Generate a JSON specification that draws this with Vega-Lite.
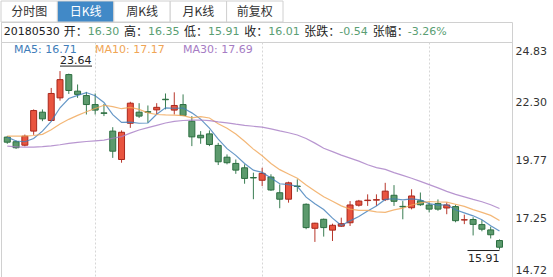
{
  "$schema": "https://vega.github.io/schema/vega-lite/v6.json",
  "padding": 0,
  "spacing": 0,
  "bounds": "flush",
  "background": "white",
  "config": {
    "view": {"stroke": null},
    "font": "DejaVu Sans"
  },
  "datasets": {
    "tabs": [
      {"tab": "分时图", "selected": false},
      {"tab": "日K线", "selected": true},
      {"tab": "周K线", "selected": false},
      {"tab": "月K线", "selected": false},
      {"tab": "前复权", "selected": false}
    ],
    "info": [
      {"item": "开", "label": "开：", "value": "16.30", "date": "20180530"},
      {"item": "高", "label": "高：", "value": "16.35"},
      {"item": "低", "label": "低：", "value": "15.91"},
      {"item": "收", "label": "收：", "value": "16.01"},
      {"item": "张跌", "label": "张跌：", "value": "-0.54"},
      {"item": "张幅", "label": "张幅：", "value": "-3.26%"}
    ],
    "kline": [
      {"k": 0, "date": "2018-03-07", "open": 20.78, "high": 20.83, "low": 20.49, "close": 20.56, "MA5": 20.78, "MA10": 20.82, "MA30": 20.39},
      {"k": 1, "date": "2018-03-08", "open": 20.58, "high": 20.64, "low": 20.27, "close": 20.32, "MA5": 20.61, "MA10": 20.82, "MA30": 20.36},
      {"k": 2, "date": "2018-03-09", "open": 20.43, "high": 20.89, "low": 20.38, "close": 20.82, "MA5": 20.58, "MA10": 20.82, "MA30": 20.35},
      {"k": 3, "date": "2018-03-12", "open": 21.04, "high": 21.98, "low": 20.88, "close": 21.93, "MA5": 20.72, "MA10": 20.85, "MA30": 20.35},
      {"k": 4, "date": "2018-03-13", "open": 21.86, "high": 21.98, "low": 21.47, "close": 21.57, "MA5": 21.04, "MA10": 20.90, "MA30": 20.37},
      {"k": 5, "date": "2018-03-14", "open": 21.50, "high": 22.91, "low": 21.47, "close": 22.67, "MA5": 21.46, "MA10": 21.10, "MA30": 20.40},
      {"k": 6, "date": "2018-03-15", "open": 22.48, "high": 23.64, "low": 22.36, "close": 23.27, "MA5": 22.05, "MA10": 21.35, "MA30": 20.45},
      {"k": 7, "date": "2018-03-16", "open": 23.49, "high": 23.53, "low": 22.65, "close": 22.80, "MA5": 22.45, "MA10": 21.55, "MA30": 20.51},
      {"k": 8, "date": "2018-03-19", "open": 22.77, "high": 23.06, "low": 22.48, "close": 22.63, "MA5": 22.59, "MA10": 21.72, "MA30": 20.55},
      {"k": 9, "date": "2018-03-20", "open": 22.58, "high": 22.74, "low": 21.76, "close": 22.19, "MA5": 22.71, "MA10": 21.88, "MA30": 20.59},
      {"k": 10, "date": "2018-03-21", "open": 22.19, "high": 22.67, "low": 21.76, "close": 21.95, "MA5": 22.57, "MA10": 22.02, "MA30": 20.62},
      {"k": 11, "date": "2018-03-22", "open": 21.83, "high": 22.22, "low": 21.69, "close": 21.81, "MA5": 22.28, "MA10": 22.16, "MA30": 20.65},
      {"k": 12, "date": "2018-03-23", "open": 21.04, "high": 21.21, "low": 19.88, "close": 20.17, "MA5": 21.75, "MA10": 22.10, "MA30": 20.73},
      {"k": 13, "date": "2018-03-26", "open": 19.81, "high": 21.07, "low": 19.67, "close": 20.99, "MA5": 21.42, "MA10": 22.01, "MA30": 20.80},
      {"k": 14, "date": "2018-03-27", "open": 21.38, "high": 22.31, "low": 21.18, "close": 22.25, "MA5": 21.43, "MA10": 22.07, "MA30": 20.95},
      {"k": 15, "date": "2018-03-28", "open": 21.86, "high": 22.25, "low": 21.61, "close": 21.69, "MA5": 21.38, "MA10": 21.98, "MA30": 21.09},
      {"k": 16, "date": "2018-03-29", "open": 21.88, "high": 22.15, "low": 21.40, "close": 21.86, "MA5": 21.39, "MA10": 21.83, "MA30": 21.19},
      {"k": 17, "date": "2018-03-30", "open": 21.96, "high": 22.25, "low": 21.76, "close": 22.07, "MA5": 21.77, "MA10": 21.76, "MA30": 21.29},
      {"k": 18, "date": "2018-04-02", "open": 22.42, "high": 22.67, "low": 21.98, "close": 22.40, "MA5": 22.05, "MA10": 21.74, "MA30": 21.39},
      {"k": 19, "date": "2018-04-03", "open": 21.95, "high": 22.72, "low": 21.76, "close": 22.15, "MA5": 22.03, "MA10": 21.73, "MA30": 21.46},
      {"k": 20, "date": "2018-04-04", "open": 22.19, "high": 22.63, "low": 21.69, "close": 21.72, "MA5": 22.04, "MA10": 21.71, "MA30": 21.50},
      {"k": 21, "date": "2018-04-09", "open": 21.47, "high": 21.69, "low": 20.39, "close": 20.79, "MA5": 21.83, "MA10": 21.61, "MA30": 21.52},
      {"k": 22, "date": "2018-04-10", "open": 20.86, "high": 21.04, "low": 20.49, "close": 20.75, "MA5": 21.56, "MA10": 21.67, "MA30": 21.52},
      {"k": 23, "date": "2018-04-11", "open": 20.92, "high": 21.07, "low": 20.39, "close": 20.46, "MA5": 21.17, "MA10": 21.61, "MA30": 21.49},
      {"k": 24, "date": "2018-04-12", "open": 20.42, "high": 20.53, "low": 19.57, "close": 19.71, "MA5": 20.69, "MA10": 21.36, "MA30": 21.44},
      {"k": 25, "date": "2018-04-13", "open": 19.91, "high": 20.03, "low": 19.60, "close": 19.67, "MA5": 20.28, "MA10": 21.16, "MA30": 21.40},
      {"k": 26, "date": "2018-04-16", "open": 19.64, "high": 19.81, "low": 19.19, "close": 19.35, "MA5": 19.99, "MA10": 20.91, "MA30": 21.34},
      {"k": 27, "date": "2018-04-17", "open": 19.45, "high": 19.60, "low": 18.76, "close": 18.99, "MA5": 19.64, "MA10": 20.60, "MA30": 21.29},
      {"k": 28, "date": "2018-04-18", "open": 19.03, "high": 19.24, "low": 18.09, "close": 19.01, "MA5": 19.35, "MA10": 20.26, "MA30": 21.25},
      {"k": 29, "date": "2018-04-19", "open": 18.91, "high": 19.45, "low": 18.66, "close": 19.21, "MA5": 19.25, "MA10": 19.97, "MA30": 21.21},
      {"k": 30, "date": "2018-04-20", "open": 19.05, "high": 19.17, "low": 18.45, "close": 18.49, "MA5": 19.01, "MA10": 19.64, "MA30": 21.14},
      {"k": 31, "date": "2018-04-23", "open": 18.37, "high": 18.73, "low": 17.70, "close": 18.09, "MA5": 18.76, "MA10": 19.37, "MA30": 21.05},
      {"k": 32, "date": "2018-04-24", "open": 18.09, "high": 18.85, "low": 17.94, "close": 18.80, "MA5": 18.72, "MA10": 19.18, "MA30": 20.97},
      {"k": 33, "date": "2018-04-25", "open": 18.66, "high": 18.95, "low": 18.41, "close": 18.64, "MA5": 18.65, "MA10": 19.00, "MA30": 20.87},
      {"k": 34, "date": "2018-04-26", "open": 17.87, "high": 17.91, "low": 16.79, "close": 16.86, "MA5": 18.18, "MA10": 18.71, "MA30": 20.72},
      {"k": 35, "date": "2018-04-27", "open": 16.83, "high": 17.07, "low": 16.24, "close": 17.05, "MA5": 17.89, "MA10": 18.45, "MA30": 20.52},
      {"k": 36, "date": "2018-05-02", "open": 17.22, "high": 17.25, "low": 16.47, "close": 16.86, "MA5": 17.64, "MA10": 18.20, "MA30": 20.30},
      {"k": 37, "date": "2018-05-03", "open": 16.75, "high": 17.03, "low": 16.28, "close": 16.96, "MA5": 17.27, "MA10": 18.00, "MA30": 20.15},
      {"k": 38, "date": "2018-05-04", "open": 16.92, "high": 17.29, "low": 16.89, "close": 17.03, "MA5": 16.95, "MA10": 17.80, "MA30": 20.00},
      {"k": 39, "date": "2018-05-07", "open": 17.07, "high": 18.01, "low": 16.93, "close": 17.84, "MA5": 17.15, "MA10": 17.66, "MA30": 19.87},
      {"k": 40, "date": "2018-05-08", "open": 17.83, "high": 18.06, "low": 17.77, "close": 18.01, "MA5": 17.34, "MA10": 17.61, "MA30": 19.74},
      {"k": 41, "date": "2018-05-09", "open": 18.03, "high": 18.30, "low": 17.80, "close": 18.05, "MA5": 17.58, "MA10": 17.61, "MA30": 19.58},
      {"k": 42, "date": "2018-05-10", "open": 18.05, "high": 18.30, "low": 17.80, "close": 18.07, "MA5": 17.80, "MA10": 17.54, "MA30": 19.46},
      {"k": 43, "date": "2018-05-11", "open": 18.07, "high": 18.80, "low": 18.01, "close": 18.44, "MA5": 18.08, "MA10": 17.52, "MA30": 19.38},
      {"k": 44, "date": "2018-05-14", "open": 18.26, "high": 18.70, "low": 17.80, "close": 18.00, "MA5": 18.11, "MA10": 17.63, "MA30": 19.24},
      {"k": 45, "date": "2018-05-15", "open": 17.78, "high": 18.01, "low": 17.22, "close": 17.76, "MA5": 18.06, "MA10": 17.70, "MA30": 19.12},
      {"k": 46, "date": "2018-05-16", "open": 17.72, "high": 18.52, "low": 17.65, "close": 18.23, "MA5": 18.10, "MA10": 17.84, "MA30": 19.00},
      {"k": 47, "date": "2018-05-17", "open": 18.02, "high": 18.38, "low": 17.80, "close": 17.85, "MA5": 18.06, "MA10": 17.93, "MA30": 18.86},
      {"k": 48, "date": "2018-05-18", "open": 17.84, "high": 17.95, "low": 17.52, "close": 17.66, "MA5": 17.90, "MA10": 17.99, "MA30": 18.72},
      {"k": 49, "date": "2018-05-21", "open": 17.90, "high": 18.08, "low": 17.59, "close": 17.66, "MA5": 17.83, "MA10": 17.97, "MA30": 18.58},
      {"k": 50, "date": "2018-05-22", "open": 17.71, "high": 17.95, "low": 17.44, "close": 17.84, "MA5": 17.85, "MA10": 17.96, "MA30": 18.43},
      {"k": 51, "date": "2018-05-23", "open": 17.77, "high": 17.85, "low": 17.09, "close": 17.16, "MA5": 17.63, "MA10": 17.87, "MA30": 18.30},
      {"k": 52, "date": "2018-05-24", "open": 17.19, "high": 17.42, "low": 17.01, "close": 17.20, "MA5": 17.50, "MA10": 17.78, "MA30": 18.19},
      {"k": 53, "date": "2018-05-25", "open": 17.21, "high": 17.31, "low": 16.52, "close": 17.00, "MA5": 17.37, "MA10": 17.64, "MA30": 18.08},
      {"k": 54, "date": "2018-05-28", "open": 16.99, "high": 17.18, "low": 16.70, "close": 16.79, "MA5": 17.20, "MA10": 17.52, "MA30": 17.98},
      {"k": 55, "date": "2018-05-29", "open": 16.76, "high": 16.90, "low": 16.39, "close": 16.55, "MA5": 16.94, "MA10": 17.39, "MA30": 17.85},
      {"k": 56, "date": "2018-05-30", "open": 16.30, "high": 16.35, "low": 15.91, "close": 16.01, "MA5": 16.71, "MA10": 17.17, "MA30": 17.69}
    ]
  },
  "vconcat": [
    {
      "width": 553,
      "height": 21,
      "data": {"name": "tabs"},
      "layer": [
        {
          "mark": {"type": "rect", "stroke": "#d0d0d0", "strokeWidth": 1},
          "encoding": {
            "x": {"field": "tab", "type": "nominal", "sort": null, "axis": null,
                  "scale": {"type": "band", "range": [0, 282], "paddingInner": 0, "paddingOuter": 0}},
            "fill": {"condition": {"test": "datum.selected", "value": "#4189c7"}, "value": "#ffffff"}
          }
        },
        {
          "mark": {"type": "text", "font": "Noto Sans CJK SC", "fontSize": 12},
          "encoding": {
            "x": {"field": "tab", "type": "nominal", "sort": null, "axis": null},
            "text": {"field": "tab"},
            "color": {"condition": {"test": "datum.selected", "value": "#ffffff"}, "value": "#333333"}
          }
        }
      ]
    },
    {
      "width": 511,
      "height": 20,
      "view": {"stroke": "#d0d0d0"},
      "data": {"name": "info"},
      "resolve": {"scale": {"x": "independent"}},
      "layer": [
        {
          "transform": [{"filter": "length(datum.item) == 1"}],
          "encoding": {
            "x": {"field": "item", "type": "nominal", "sort": null, "axis": null,
                  "scale": {"type": "point", "range": [62.7, 243.3], "padding": 0}}
          },
          "layer": [
            {
              "mark": {"type": "text", "align": "left", "font": "Noto Sans CJK SC", "fontSize": 12, "color": "#222222"},
              "encoding": {"text": {"field": "label"}}
            },
            {
              "mark": {"type": "text", "align": "left", "dx": 24, "font": "DejaVu Sans", "fontSize": 11, "color": "#5a9e73"},
              "encoding": {"text": {"field": "value"}}
            },
            {
              "transform": [{"filter": "isValid(datum.date)"}],
              "mark": {"type": "text", "align": "right", "dx": -4, "font": "DejaVu Sans", "fontSize": 11, "color": "#222222"},
              "encoding": {"text": {"field": "date"}}
            }
          ]
        },
        {
          "transform": [{"filter": "length(datum.item) == 2"}],
          "encoding": {
            "x": {"field": "item", "type": "nominal", "sort": null, "axis": null,
                  "scale": {"type": "point", "range": [303.3, 371.7], "padding": 0}}
          },
          "layer": [
            {
              "mark": {"type": "text", "align": "left", "font": "Noto Sans CJK SC", "fontSize": 12, "color": "#222222"},
              "encoding": {"text": {"field": "label"}}
            },
            {
              "mark": {"type": "text", "align": "left", "dx": 35, "font": "DejaVu Sans", "fontSize": 11, "color": "#5a9e73"},
              "encoding": {"text": {"field": "value"}}
            }
          ]
        }
      ]
    },
    {
      "width": 511,
      "height": 235,
      "view": {"stroke": "#d0d0d0"},
      "data": {"name": "kline"},
      "encoding": {
        "x": {"field": "k", "type": "quantitative",
              "scale": {"domain": [-0.145, 56.855], "nice": false, "zero": false},
              "axis": {"grid": true, "gridDash": [2, 2], "gridColor": "#d6d6d6", "values": [10, 29, 48],
                       "labels": false, "ticks": false, "domain": false, "title": null}}
      },
      "layer": [
        {
          "mark": {"type": "rule", "strokeWidth": 1},
          "encoding": {
            "y": {"field": "low", "type": "quantitative",
                  "scale": {"domain": [14.72, 24.90], "nice": false, "zero": false},
                  "axis": {"orient": "right", "values": [14.72, 17.25, 19.77, 22.30, 24.83], "format": ".2f",
                           "grid": false, "ticks": false, "domain": false, "title": null,
                           "labelPadding": 3, "labelFontSize": 11, "labelFont": "DejaVu Sans", "labelColor": "#333333",
                           "labelFlush": 3, "labelFlushOffset": -2}},
            "y2": {"field": "high"},
            "color": {"condition": {"test": "datum.close >= datum.open", "value": "#b8372b"}, "value": "#3a7d52"}
          }
        },
        {
          "mark": {"type": "bar", "size": 6, "strokeWidth": 1},
          "encoding": {
            "y": {"field": "open", "type": "quantitative"},
            "y2": {"field": "close"},
            "fill": {"condition": {"test": "datum.close >= datum.open", "value": "#e9543f"}, "value": "#5c9a6d"},
            "stroke": {"condition": {"test": "datum.close >= datum.open", "value": "#a8281d"}, "value": "#2c6e40"}
          }
        },
        {
          "transform": [{"fold": ["MA5", "MA10", "MA30"], "as": ["series", "value"]}],
          "mark": {"type": "line", "strokeWidth": 1.2, "opacity": 0.8},
          "encoding": {
            "y": {"field": "value", "type": "quantitative"},
            "color": {"field": "series", "type": "nominal",
                      "scale": {"domain": ["MA5", "MA10", "MA30"], "range": ["#3f7db9", "#f0a555", "#a67cc4"]},
                      "legend": {"orient": "none", "legendX": 2, "legendY": 43, "direction": "horizontal", "title": null,
                                 "symbolSize": 0, "symbolOpacity": 0, "symbolStrokeWidth": 0, "labelOffset": 0,
                                 "columnPadding": 7, "padding": 0,
                                 "labelFont": "DejaVu Sans", "labelFontSize": 11,
                                 "labelExpr": "datum.label + ': ' + (datum.label == 'MA5' ? '16.71' : datum.label == 'MA10' ? '17.17' : '17.69')",
                                 "encode": {"labels": {"update": {"fill": {"scale": "color", "field": "value"}}}}}}
          }
        },
        {
          "data": {"values": [{"k": 6, "v": 23.64, "t": "23.64"}]},
          "layer": [
            {
              "mark": {"type": "text", "align": "left", "baseline": "alphabetic", "dy": -7, "font": "DejaVu Sans", "fontSize": 11, "color": "#222222"},
              "encoding": {"y": {"field": "v", "type": "quantitative"}, "text": {"field": "t"}}
            },
            {
              "mark": {"type": "rule", "x2Offset": 32, "yOffset": -5, "color": "#222222", "strokeWidth": 1},
              "encoding": {"x2": {"field": "k"}, "y": {"field": "v", "type": "quantitative"}}
            }
          ]
        },
        {
          "data": {"values": [{"k": 56, "v": 15.91, "t": "15.91"}]},
          "layer": [
            {
              "mark": {"type": "text", "align": "right", "baseline": "top", "dy": 3, "font": "DejaVu Sans", "fontSize": 11, "color": "#222222"},
              "encoding": {"y": {"field": "v", "type": "quantitative"}, "text": {"field": "t"}}
            },
            {
              "mark": {"type": "rule", "xOffset": -32, "yOffset": 1, "color": "#222222", "strokeWidth": 1},
              "encoding": {"x2": {"field": "k"}, "y": {"field": "v", "type": "quantitative"}}
            }
          ]
        }
      ]
    }
  ]
}
